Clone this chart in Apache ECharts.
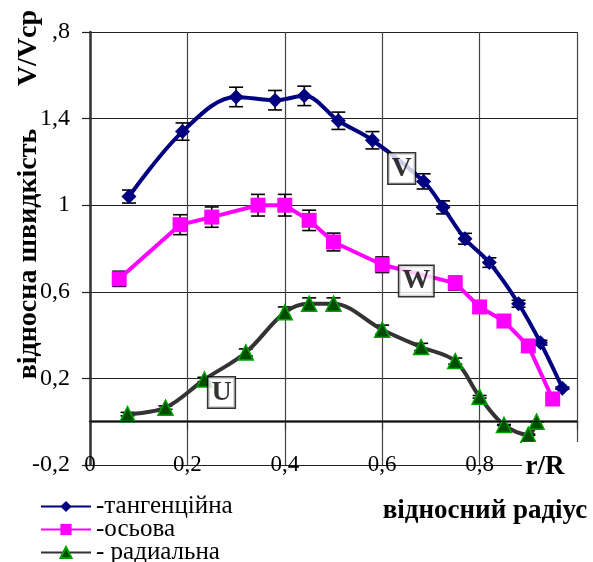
<!DOCTYPE html>
<html>
<head>
<meta charset="utf-8">
<script src="https://cdn.jsdelivr.net/npm/echarts@6/dist/echarts.min.js"></script>
<style>html,body{margin:0;padding:0;background:#fff}#c{width:593px;height:562px}</style>
</head>
<body>
<div id="c"></div>
<script>
// ---- data ----
var vX = [0.08, 0.19, 0.30, 0.38, 0.44, 0.51, 0.58, 0.685, 0.725, 0.77, 0.82, 0.88, 0.925, 0.97];
var vY = [1.04, 1.34, 1.50, 1.485, 1.505, 1.39, 1.30, 1.11, 0.99, 0.845, 0.735, 0.545, 0.365, 0.155];
var vErr = [0.03, 0.04, 0.045, 0.045, 0.045, 0.04, 0.04, 0.035, 0.03, 0.025, 0.022, 0.016, 0.011, 0.005];

var wX = [0.06, 0.185, 0.25, 0.345, 0.40, 0.45, 0.50, 0.60, 0.75, 0.80, 0.85, 0.90, 0.95];
var wY = [0.66, 0.91, 0.945, 1.0, 1.0, 0.93, 0.83, 0.725, 0.64, 0.53, 0.465, 0.35, 0.105];
var wErr = [0.035, 0.046, 0.047, 0.05, 0.05, 0.047, 0.041, 0.036, 0.032, 0.027, 0.023, 0.017, 0.005];

var uX = [0.077, 0.155, 0.235, 0.32, 0.40, 0.45, 0.50, 0.60, 0.68, 0.75, 0.80, 0.85, 0.90, 0.917];
var uY = [0.035, 0.065, 0.195, 0.32, 0.505, 0.545, 0.545, 0.425, 0.345, 0.28, 0.115, -0.015, -0.06, 0.0];
var uErr = [0.008, 0.008, 0.01, 0.016, 0.025, 0.027, 0.027, 0.021, 0.017, 0.014, 0.006, 0.002, 0.003, 0.0];

var seriesNames = ['-тангенційна', '-осьова', '- радиальна'];
var xTickLabels = ['0', '0,2', '0,4', '0,6', '0,8', ''];
var yTickLabels = ['-0,2', '0,2', '0,6', '1', '1,4', ',8'];

var boxText = ['V', 'W', 'U'];
var boxX = [0.64, 0.67, 0.27];
var boxY = [1.17, 0.65, 0.135];

var yTitle = 'відносна швидкість';
var yUnit = 'V/Vcp';
var xTitle = 'відносний радіус';
var xUnit = 'r/R';

// ---- chart ----
var FONT = '"Liberation Serif", "Times New Roman", serif';
function pairs(xs, ys) { return xs.map(function (x, i) { return [x, ys[i]]; }); }
function errSeries(xs, ys, es) {
  return {
    type: 'custom', silent: true, z: 3,
    renderItem: function (params, api) {
      var x = api.value(0), y = api.value(1), e = api.value(2);
      var t = api.coord([x, y + e]), b = api.coord([x, y - e]);
      var hw = 7, st = { stroke: '#000', lineWidth: 1.6 };
      return { type: 'group', children: [
        { type: 'line', shape: { x1: t[0], y1: t[1], x2: b[0], y2: b[1] }, style: st },
        { type: 'line', shape: { x1: t[0] - hw, y1: t[1], x2: t[0] + hw, y2: t[1] }, style: st },
        { type: 'line', shape: { x1: b[0] - hw, y1: b[1], x2: b[0] + hw, y2: b[1] }, style: st }
      ] };
    },
    data: xs.map(function (x, i) { return [x, ys[i], es[i]]; })
  };
}

var chart = echarts.init(document.getElementById('c'), null, { renderer: 'canvas' });
chart.setOption({
  animation: false,
  backgroundColor: '#fff',
  grid: { left: 90, right: 16, top: 32, bottom: 97 },
  legend: {
    data: seriesNames, orient: 'vertical', left: 40, top: 494, padding: 0,
    width: 300, height: 80,
    itemWidth: 50, itemHeight: 14, itemGap: -2,
    textStyle: { fontFamily: FONT, fontSize: 25, lineHeight: 22, color: '#000' }
  },
  xAxis: {
    type: 'value', min: 0, max: 1, interval: 0.2,
    axisLine: { show: true, lineStyle: { color: '#333', width: 2.5 } },
    axisTick: { show: true, length: 8, inside: false, lineStyle: { color: '#333', width: 1.2 } },
    splitLine: { show: true, lineStyle: { color: '#444', width: 1.2 } },
    axisLabel: {
      margin: 0, verticalAlign: 'middle', fontFamily: FONT, fontSize: 23, color: '#000',
      formatter: function (v) { return xTickLabels[Math.round(v / 0.2)]; }
    }
  },
  yAxis: {
    type: 'value', min: -0.2, max: 1.8, interval: 0.4,
    axisLine: { show: true, lineStyle: { color: '#333', width: 2.5 } },
    axisTick: { show: true, length: 8, inside: false, lineStyle: { color: '#222', width: 1.2 } },
    splitLine: { show: true, lineStyle: { color: '#222', width: 1.2 } },
    axisLabel: {
      margin: 20, fontFamily: FONT, fontSize: 24, color: '#000',
      formatter: function (v) { return yTickLabels[Math.round((v + 0.2) / 0.4)]; }
    }
  },
  graphic: [
    { type: 'text', x: 29, y: 48, rotation: Math.PI / 2,
      style: { text: yUnit, font: 'bold 28px ' + FONT, fill: '#000', textAlign: 'center', textVerticalAlign: 'middle' } },
    { type: 'text', x: 29, y: 254, rotation: Math.PI / 2,
      style: { text: yTitle, font: 'bold 28px ' + FONT, fill: '#000', textAlign: 'center', textVerticalAlign: 'middle' } },
    { type: 'text', x: 485, y: 511,
      style: { text: xTitle, font: 'bold 27px ' + FONT, fill: '#000', textAlign: 'center', textVerticalAlign: 'middle' } },
    { type: 'rect', shape: { x: 522, y: 442, width: 71, height: 48 }, style: { fill: '#fff' }, z: 50 },
    { type: 'text', x: 545, y: 467, z: 51,
      style: { text: xUnit, font: 'bold 27px ' + FONT, fill: '#000', textAlign: 'center', textVerticalAlign: 'middle' } }
  ],
  series: [
    errSeries(vX, vY, vErr),
    errSeries(wX, wY, wErr),
    errSeries(uX, uY, uErr),
    {
      name: seriesNames[0], type: 'line', z: 4, smooth: 0.35,
      data: pairs(vX, vY), symbol: 'diamond', symbolSize: 15,
      lineStyle: { color: '#000080', width: 4 }, itemStyle: { color: '#000080' },
      markLine: { silent: true, symbol: 'none', label: { show: false },
        lineStyle: { color: '#111', width: 1.2, type: 'solid' }, data: [{ yAxis: 0 }] }
    },
    {
      name: seriesNames[1], type: 'line', z: 4, smooth: false,
      data: pairs(wX, wY), symbol: 'rect', symbolSize: 15,
      lineStyle: { color: '#ff00ff', width: 4 }, itemStyle: { color: '#ff00ff' }
    },
    {
      name: seriesNames[2], type: 'line', z: 4, smooth: 0.35,
      data: pairs(uX, uY), symbol: 'triangle', symbolSize: 15,
      lineStyle: { color: '#333', width: 4 },
      itemStyle: { color: '#004d00', borderColor: '#00a000', borderWidth: 1.5 }
    },
    {
      type: 'scatter', z: 10, silent: true, symbolSize: 0,
      data: boxText.map(function (t, i) { return { value: [boxX[i], boxY[i]], name: t }; }),
      label: {
        show: true, position: 'inside', formatter: '{b}',
        fontFamily: FONT, fontWeight: 'bold', fontSize: 28, color: '#000',
        backgroundColor: '#fff', borderColor: '#000', borderWidth: 1.5,
        padding: [2, 3, 0, 3]
      }
    }
  ]
});
</script>
</body>
</html>
